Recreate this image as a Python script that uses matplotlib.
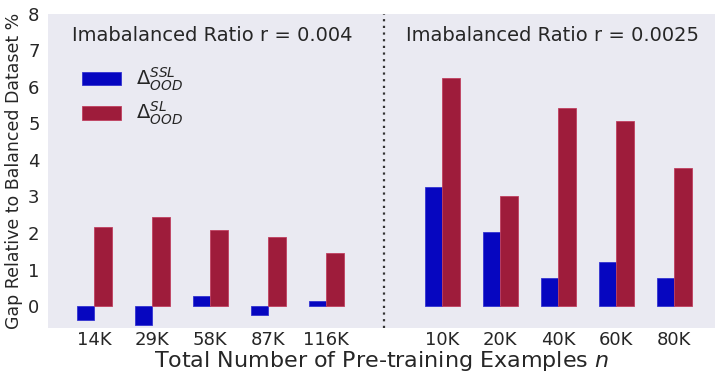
import matplotlib
matplotlib.use("Agg")
import matplotlib.pyplot as plt
import numpy as np

left_labels = ["14K", "29K", "58K", "87K", "116K"]
right_labels = ["10K", "20K", "40K", "60K", "80K"]
ssl_left = [-0.38, -0.51, 0.28, -0.25, 0.15]
sl_left = [2.17, 2.45, 2.07, 1.88, 1.45]
ssl_right = [3.27, 2.04, 0.76, 1.20, 0.78]
sl_right = [6.25, 3.00, 5.42, 5.06, 3.78]

plt.rcParams['font.family'] = ['DejaVu Sans']
plt.rcParams['mathtext.fontset'] = 'dejavusans'

fig = plt.figure(figsize=(7.15, 3.74), dpi=100)
ax = fig.add_axes([0.067, 0.123, 0.933, 0.84])
ax.set_facecolor('#EAEAF2')
for s in ax.spines.values():
    s.set_visible(False)

pos_left = np.arange(5)
pos_right = np.arange(5) + 6
pos = np.concatenate([pos_left, pos_right])
ssl = ssl_left + ssl_right
sl = sl_left + sl_right
labels = left_labels + right_labels

w = 0.3
blue = '#0606C0'
red = '#9E1C3B'
ax.bar(pos - w/2, ssl, w, color=blue, edgecolor='#3333d0', linewidth=0.6, label=r'$\Delta^{SSL}_{OOD}$')
ax.bar(pos + w/2, sl, w, color=red, edgecolor='#c04060', linewidth=0.6, label=r'$\Delta^{SL}_{OOD}$')

ax.axvline(5, color='#333333', linestyle=(0, (1, 2)), linewidth=1.6)

ax.set_xlim(-0.8, 10.7)
ax.set_ylim(-0.6, 8)
ax.set_xticks(pos)
ax.set_xticklabels(labels)
ax.set_yticks(range(0, 9))
ax.tick_params(axis='x', length=0, labelsize=13, colors='#262626', pad=2)
ax.tick_params(axis='y', length=0, labelsize=13, colors='#262626', pad=6)

ax.text(2.03, 7.4, 'Imabalanced Ratio r = 0.004', ha='center', va='center', fontsize=14, color='#262626')
ax.text(7.9, 7.4, 'Imabalanced Ratio r = 0.0025', ha='center', va='center', fontsize=14, color='#262626')

ax.set_xlabel('Total Number of Pre-training Examples $n$', fontsize=16, color='#262626', labelpad=0)
ax.set_ylabel('Gap Relative to Balanced Dataset %', fontsize=12.5, color='#262626', labelpad=4)

leg = ax.legend(loc='upper left', bbox_to_anchor=(0.039, 0.86), frameon=False, fontsize=14,
                handlelength=2.0, handleheight=0.7, handletextpad=0.8, labelspacing=0.35,
                borderaxespad=0.0)
for t in leg.get_texts():
    t.set_color('#262626')

fig.savefig('out.png', dpi=100)
